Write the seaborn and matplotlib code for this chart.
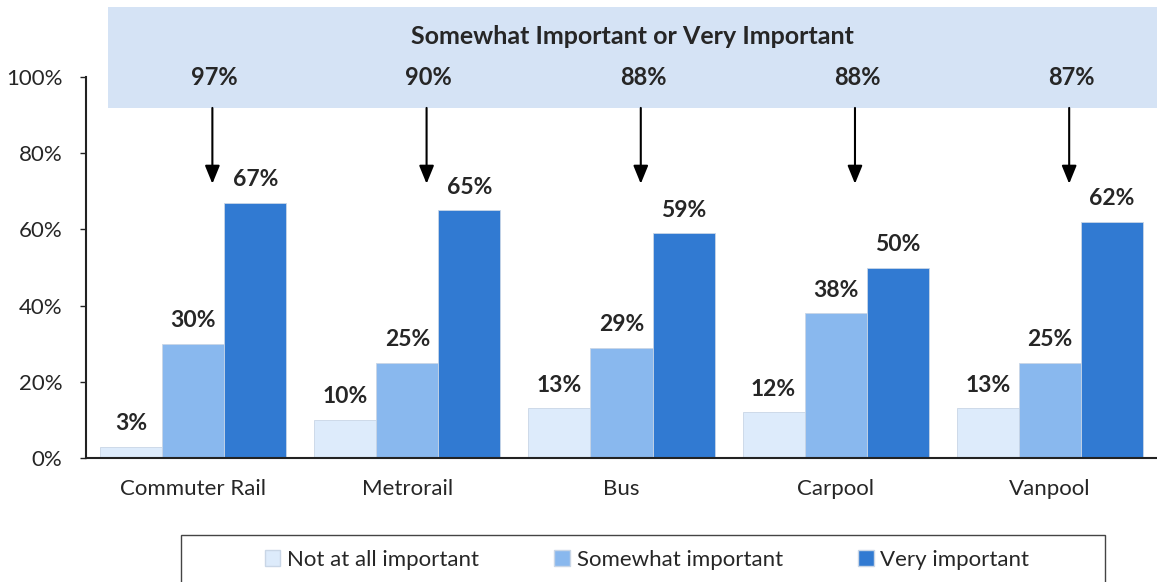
import numpy as np
import pandas as pd
import matplotlib
matplotlib.use("Agg")
import matplotlib.pyplot as plt
from matplotlib.patches import Rectangle
import seaborn as sns

# data
modes = ["Commuter Rail", "Metrorail", "Bus", "Carpool", "Vanpool"]
levels = ["Not at all important", "Somewhat important", "Very important"]
not_important = [3, 10, 13, 12, 13]
somewhat_important = [30, 25, 29, 38, 25]
very_important = [67, 65, 59, 50, 62]
combined = [97, 90, 88, 88, 87]
banner_title = "Somewhat Important or Very Important"

colors = ["#DDEBFB", "#89B8EE", "#317AD2"]

df = pd.DataFrame({
    "mode": modes * 3,
    "level": np.repeat(levels, len(modes)),
    "value": not_important + somewhat_important + very_important,
})

sns.set_style("white")
plt.rcParams["font.family"] = ["Lato", "DejaVu Sans"]

fig = plt.figure(figsize=(11.57, 5.82), dpi=100)
ax = fig.add_axes([86 / 1157, 1 - 458 / 582, 1 - 86 / 1157, 451 / 582])

sns.barplot(data=df, x="mode", y="value", hue="level", palette=colors,
            width=0.87, gap=0, saturation=1, ax=ax, legend=True)

for bars in ax.containers:
    for b in bars:
        b.set_edgecolor("#C9D6E6")
        b.set_linewidth(0.6)
    ax.bar_label(bars, fmt="%d%%", padding=9, fontsize=16.5, fontweight="bold")

ax.set_xlim(-0.5, len(modes) - 0.5)
ax.set_ylim(0, 118.4)
ax.set_yticks(range(0, 101, 20))
ax.set_yticklabels([f"{v}%" for v in range(0, 101, 20)], fontsize=16)
ax.set_xlabel("")
ax.set_ylabel("")
ax.tick_params(axis="x", length=0, pad=15, labelsize=16)
ax.set_xticks(np.arange(-0.5, len(modes)), minor=True)
ax.tick_params(axis="x", which="minor", length=5, width=1, color="#555555", direction="out")
ax.tick_params(axis="y", length=4, width=1, color="#222222", direction="out", left=True, pad=13)

sns.despine(ax=ax, top=True, right=True)
ax.spines["left"].set_bounds(0, 100)
ax.spines["left"].set_color("#222222")
ax.spines["bottom"].set_color("#222222")
ax.spines["left"].set_linewidth(1.5)
ax.spines["bottom"].set_linewidth(1.5)

# banner across the top
ax.add_patch(Rectangle((-0.397, 91.9), len(modes) - 0.5 + 0.397, 26.5,
                       facecolor="#D5E3F5", edgecolor="none", clip_on=False, zorder=0))
ax.text((len(modes) - 1) / 2 + 0.05, 110.6, banner_title, ha="center", va="center",
        fontsize=18, fontweight="bold")
for i, v in enumerate(combined):
    ax.text(i + 0.1, 100, f"{v}%", ha="center", va="center", fontsize=17, fontweight="bold")
    ax.annotate("", xy=(i + 0.09, 72), xytext=(i + 0.09, 91.9),
                arrowprops=dict(arrowstyle="-|>,head_length=1.1,head_width=0.45",
                                color="black", lw=1.5, shrinkA=0, shrinkB=0))

handles, labels = ax.get_legend_handles_labels()
ax.get_legend().remove()

# legend frame runs off the bottom edge like the original
fig.patches.append(Rectangle((181 / 1157, -0.05), 924 / 1157, 1 - 535 / 582 + 0.05,
                             transform=fig.transFigure, facecolor="white",
                             edgecolor="#444444", lw=1))
leg = fig.legend(handles, labels, loc="center", ncol=3,
                 bbox_to_anchor=(647 / 1157, 1 - 560 / 582),
                 fontsize=16, frameon=False,
                 handlelength=0.7, handleheight=0.7, handletextpad=0.3,
                 columnspacing=3.4, borderaxespad=0)
for h in leg.legend_handles:
    h.set_edgecolor("#C9D6E6")

fig.savefig("out.png", dpi=100)
